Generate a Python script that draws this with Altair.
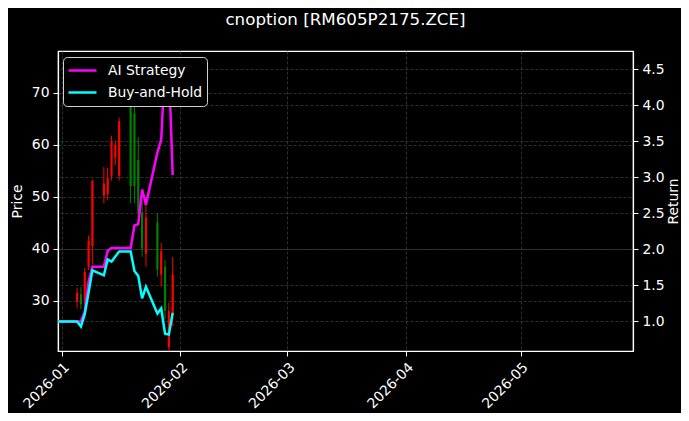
import altair as alt
import pandas as pd

FONT = "DejaVu Sans"

# ---- candlestick data (price, left axis) ----
candle_dates = [
    "2026-01-05", "2026-01-06", "2026-01-07", "2026-01-08", "2026-01-09",
    "2026-01-12", "2026-01-13", "2026-01-14", "2026-01-15", "2026-01-16",
    "2026-01-19", "2026-01-20", "2026-01-21", "2026-01-22", "2026-01-23",
    "2026-01-26", "2026-01-27", "2026-01-28", "2026-01-29", "2026-01-30",
]
open_ = [29.8, 31.2, 30.0, 36.5, 40.5, 50.2, 50.5, 54.0, 57.5, 54.0,
         69.0, 66.0, 57.0, 47.0, 39.0, 45.0, 35.0, 36.5, 21.0, 27.0]
high = [32.5, 32.6, 36.3, 42.5, 53.3, 55.7, 55.5, 61.7, 60.8, 65.2,
        71.0, 70.3, 61.4, 49.3, 49.9, 46.8, 41.1, 37.8, 29.6, 38.4]
low = [28.6, 28.3, 28.9, 35.9, 36.9, 48.7, 49.3, 53.1, 56.0, 53.1,
       48.7, 48.7, 44.9, 38.4, 36.5, 34.6, 32.7, 26.4, 18.7, 25.0]
close = [31.5, 29.3, 35.5, 41.5, 53.0, 52.5, 53.5, 60.5, 60.0, 64.5,
         52.0, 52.0, 47.0, 40.0, 46.0, 36.0, 39.5, 28.0, 28.0, 35.0]

# ---- cumulative return data (right axis) ----
line_dates = ["2025-12-31"] + candle_dates
ai_return = [1.00, 1.00, 1.00, 1.14, 1.55, 1.76, 1.76, 1.98, 2.02, 2.02, 2.02,
             2.02, 2.33, 2.35, 2.83, 2.62, 3.34, 3.52, 4.58, 4.55, 3.03]
bh_return = [1.00, 1.00, 0.93, 1.10, 1.40, 1.71, 1.64, 1.86, 1.83, 1.90, 1.97,
             1.97, 1.70, 1.63, 1.32, 1.48, 1.11, 1.18, 0.83, 0.82, 1.12]

series_names = ["AI Strategy", "Buy-and-Hold"]
series_colors = ["#ff00ff", "#00ffff"]

price_ticks = [30, 40, 50, 60, 70]
return_ticks = [1.0, 1.5, 2.0, 2.5, 3.0, 3.5, 4.0, 4.5]

candles = pd.DataFrame({"date": candle_dates, "open": open_, "high": high,
                        "low": low, "close": close})
n = len(line_dates)
lines = pd.DataFrame({
    "date": line_dates * 2,
    "series": [series_names[0]] * n + [series_names[1]] * n,
    "ret": ai_return + bh_return,
})

x_dom = [alt.DateTime(year=2025, month=12, date=31, utc=True),
         alt.DateTime(year=2026, month=5, date=30, hours=10, utc=True)]
x_ticks = [alt.DateTime(year=2026, month=m, date=1, utc=True) for m in range(1, 6)]

x_enc = alt.X(
    "date:T",
    scale=alt.Scale(type="utc", domain=x_dom),
    axis=alt.Axis(values=x_ticks, labelExpr="utcFormat(datum.value, '%Y-%m')",
                  labelAngle=-45, labelAlign="right", labelBaseline="top",
                  title=None, grid=True),
)

price_scale = alt.Scale(domain=[20.3, 78.0], nice=False, zero=False)
price_axis = alt.Axis(values=price_ticks, format="d", title="Price", grid=True,
                      orient="left", titlePadding=7)

candle_color = alt.condition("datum.close >= datum.open", alt.value("#ff0000"),
                             alt.value("#008000"))

wicks = alt.Chart(candles).mark_rule(strokeWidth=1, clip=True).encode(
    x=x_enc,
    y=alt.Y("low:Q", scale=price_scale, axis=price_axis),
    y2="high:Q",
    color=candle_color,
)
bodies = alt.Chart(candles).mark_rule(strokeWidth=2.2, clip=True).encode(
    x=x_enc,
    y=alt.Y("open:Q", scale=price_scale, axis=price_axis),
    y2="close:Q",
    color=candle_color,
)
price_layer = alt.layer(wicks, bodies)

ret_scale = alt.Scale(domain=[0.59, 4.75], nice=False, zero=False)
ret_axis = alt.Axis(values=return_ticks, format=".1f", title="Return", grid=True,
                    orient="right", titlePadding=2, titleAngle=270,
                    titleBaseline="top")
color_enc = alt.Color(
    "series:N",
    scale=alt.Scale(domain=series_names, range=series_colors),
    legend=alt.Legend(
        title=None, orient="none", legendX=5, legendY=6, direction="vertical",
        symbolType="stroke", symbolSize=784, symbolStrokeWidth=2.5,
        clipHeight=19, rowPadding=3, padding=4, labelOffset=10,
        labelFontSize=13.9, labelColor="white", labelFont=FONT,
        fillColor="black", strokeColor="#d0d0d0", cornerRadius=4,
    ),
)

ai_line = alt.Chart(lines).transform_filter(
    alt.datum.series == series_names[0]
).mark_line(strokeWidth=2.5, clip=True).encode(
    x=x_enc, y=alt.Y("ret:Q", scale=ret_scale, axis=ret_axis), color=color_enc,
)
bh_line = alt.Chart(lines).transform_filter(
    alt.datum.series == series_names[1]
).mark_line(strokeWidth=2.5, clip=True).encode(
    x=x_enc, y=alt.Y("ret:Q", scale=ret_scale, axis=ret_axis), color=color_enc,
)
return_layer = alt.layer(ai_line, bh_line)

chart = alt.layer(price_layer, return_layer).resolve_scale(
    y="independent"
).properties(
    width=575,
    height=300,
    background="black",
    padding={"left": 50, "top": 43, "right": 48, "bottom": 62},
    autosize=alt.AutoSizeParams(type="none"),
    title=alt.TitleParams(
        text="cnoption [RM605P2175.ZCE]", color="white", font=FONT, fontSize=16.7,
        fontWeight="normal", anchor="middle", frame="group", baseline="middle", offset=14,
    ),
).configure_view(
    stroke="white", strokeWidth=1.2
).configure_axis(
    labelColor="white", titleColor="white", tickColor="white", domainColor="white",
    labelFont=FONT, titleFont=FONT, labelFontSize=13.9, titleFontSize=13.9,
    titleFontWeight="normal", gridColor="#444444", gridDash=[3, 2], gridWidth=0.7,
    tickSize=5, labelPadding=4, domainWidth=1.2,
)

chart.save("out.html", embed_options={"renderer": "svg", "actions": False})
